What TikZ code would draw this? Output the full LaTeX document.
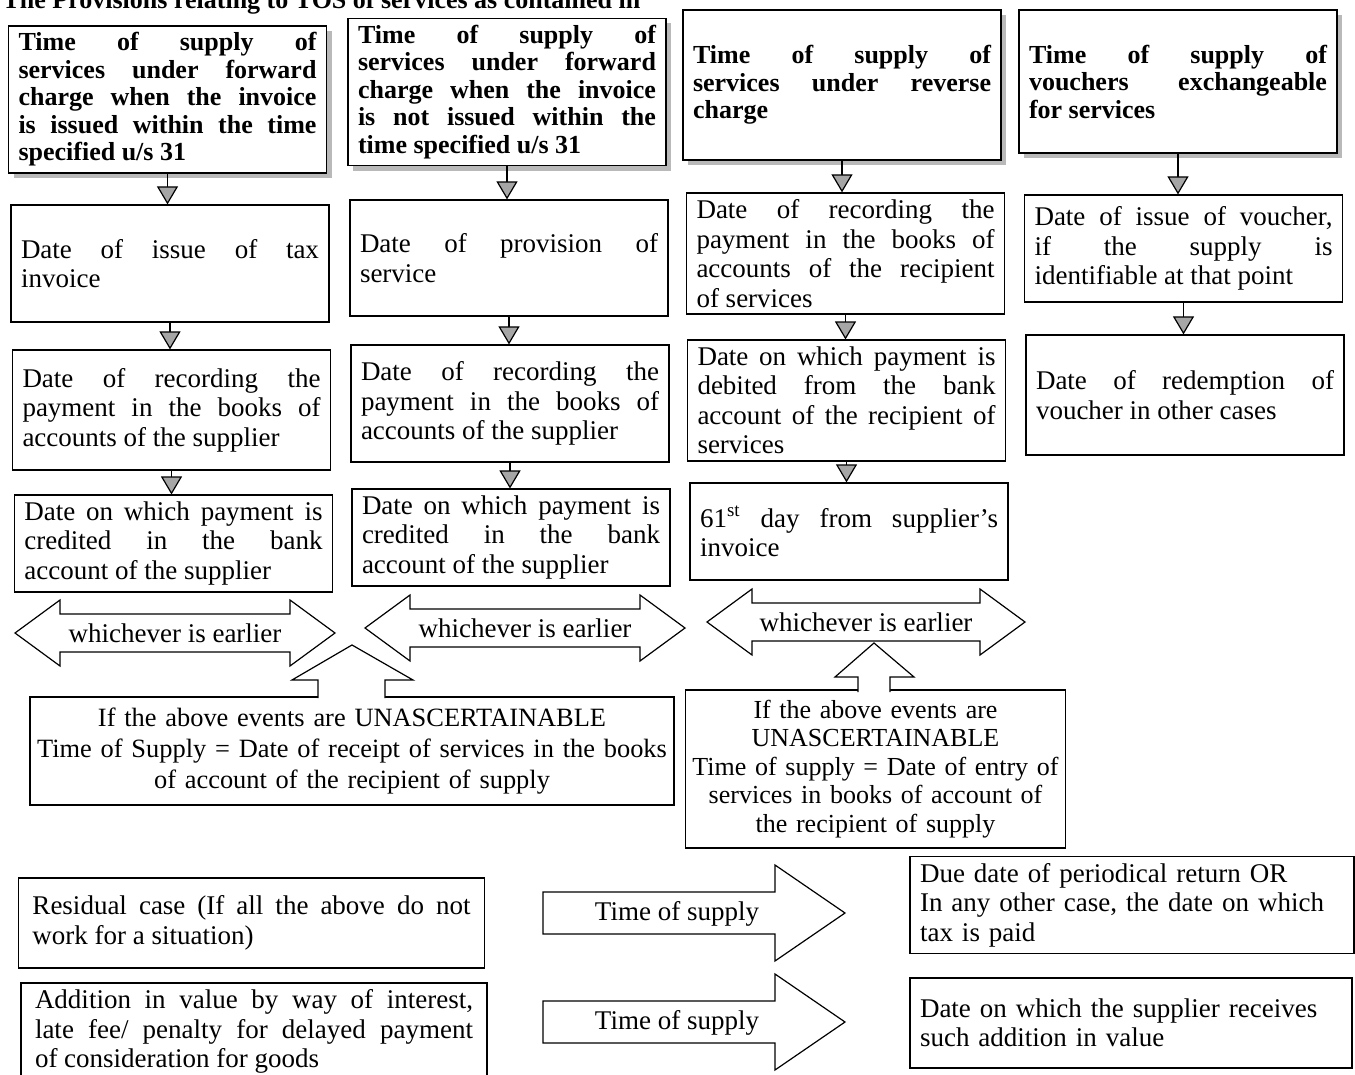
\documentclass[tikz,border=0pt]{standalone}
\usepackage{fontspec}
\setmainfont{Liberation Serif}
\usetikzlibrary{arrows.meta,shadows}
\hyphenpenalty=10000

\tikzset{
  every node/.style={font=\fontsize{13.5}{14.75}\selectfont},
  headbox/.style={draw, fill=white, align=justify, text width=149pt, inner xsep=5pt,
    font=\fontsize{13}{13.75}\selectfont\bfseries,
    drop shadow={shadow xshift=2.5pt, shadow yshift=-2.5pt, fill=gray!55, opacity=1}},
  datebox/.style={draw, align=justify, text width=149pt, inner xsep=5pt},
  textbox/.style={draw, fill=white, inner xsep=3pt},
  flowarrow/.style={-{Triangle[width=10.5pt,length=9pt,fill=gray!70]}},
  blockarrow/.style={draw, fill=white},
}

\begin{document}
\begin{tikzpicture}[x=0.5pt, y=-0.5pt, line width=0.6pt]
  \useasboundingbox (0,0) rectangle (1355,1075);

  \node[anchor=base west, inner sep=0, font=\fontsize{13}{13}\selectfont\bfseries] (title) at (2,9)
    {The Provisions relating to TOS of services as contained in};

  % heads of the four columns
  \node[headbox, minimum height=72.5pt] (h1) at (167.5,99.5)
    {Time of supply of\linebreak services under forward\linebreak charge when the invoice\linebreak
     is issued within the time\linebreak specified u/s 31};
  \node[headbox, minimum height=70pt] (h2) at (507,92)
    {Time of supply of\linebreak services under forward\linebreak charge when the invoice\linebreak
     is not issued within the\linebreak time specified u/s 31};
  \node[headbox, minimum height=75pt] (h3) at (842,85)
    {Time of supply of\linebreak services under reverse\linebreak charge};
  \node[headbox, minimum height=71.5pt] (h4) at (1178,81.5)
    {Time of supply of\linebreak vouchers exchangeable\linebreak for services};

  % second row
  \node[datebox, minimum height=58.5pt] (d1) at (170,263.5) {Date of issue of tax\linebreak invoice};
  \node[datebox, minimum height=58pt] (d2) at (509,258) {Date of provision of\linebreak service};
  \node[datebox, minimum height=58.5pt] (d3) at (845.5,253.5)
    {Date of recording the\linebreak payment in the books of\linebreak accounts of the recipient\linebreak of services};
  \node[datebox, minimum height=53.5pt] (d4) at (1183.5,248.5)
    {Date of issue of voucher,\linebreak if the supply is\linebreak identifiable at that point};

  % third row
  \node[datebox, minimum height=60pt] (e1) at (171.5,410)
    {Date of recording the\linebreak payment in the books of\linebreak accounts of the supplier};
  \node[datebox, minimum height=58.5pt] (e2) at (510,403.5)
    {Date of recording the\linebreak payment in the books of\linebreak accounts of the supplier};
  \node[datebox, minimum height=57.5pt] (e3) at (846.5,400.5)
    {Date on which payment is\linebreak debited from the bank\linebreak account of the recipient of\linebreak services};
  \node[datebox, minimum height=60pt] (e4) at (1185,395)
    {Date of redemption of\linebreak voucher in other cases};

  % fourth row
  \node[datebox, minimum height=46.5pt] (f1) at (173.5,543.5)
    {Date on which payment is\linebreak credited in the bank\linebreak account of the supplier};
  \node[datebox, minimum height=47.5pt] (f2) at (511,537.5)
    {Date on which payment is\linebreak credited in the bank\linebreak account of the supplier};
  \node[datebox, minimum height=48.5pt] (f3) at (849,531.5)
    {61\textsuperscript{st} day from supplier’s\linebreak invoice};

  \foreach \a/\b in {h1/d1,d1/e1,e1/f1,h2/d2,d2/e2,e2/f2,h3/d3,d3/e3,e3/f3,h4/d4,d4/e4}
    \draw[flowarrow] (\a.south) -- (\a.south |- \b.north);

  % whichever is earlier
  \foreach \l/\r/\y/\i in {15/335/633/1, 365/685/628/2, 707/1025/622/3} {
    \draw[blockarrow] (\l,\y) -- (\l+45,\y-33) -- (\l+45,\y-19) -- (\r-45,\y-19) -- (\r-45,\y-33)
      -- (\r,\y) -- (\r-45,\y+33) -- (\r-45,\y+19) -- (\l+45,\y+19) -- (\l+45,\y+33) -- cycle;
    \node (earlier\i) at ({(\l+\r)/2},\y) {whichever is earlier};
  }

  % unascertainable cases
  \node[textbox, align=center, text width=316pt, minimum height=54pt, font=\fontsize{13.2}{15.5}\selectfont] (unasc1) at (352,751)
    {If the above events are UNASCERTAINABLE\\
     Time of Supply = Date of receipt of services in the books\\
     of account of the recipient of supply};
  \node[textbox, align=center, text width=188pt, inner xsep=1pt, minimum height=79pt, font=\fontsize{13}{14.25}\selectfont] (unasc2) at (875.5,769)
    {If the above events are\\ UNASCERTAINABLE\\ Time of supply = Date of entry of\\
     services in books of account of\\ the recipient of supply};
  \filldraw[fill=white] (318,698) -- (318,680) -- (292,680) -- (352,645) -- (413,680) -- (385,680) -- (385,698);
  \filldraw[fill=white] (858,692) -- (858,677) -- (835,677) -- (874,643) -- (914,677) -- (890,677) -- (890,692);

  % residual case and addition in value
  \node[textbox, align=justify, text width=219pt, inner xsep=7pt, minimum height=45pt] (residual) at (251.5,923)
    {Residual case (If all the above do not\linebreak work for a situation)};
  \node[textbox, align=justify, text width=219pt, inner xsep=7pt, minimum height=48.5pt] (addition) at (254,1031.5)
    {Addition in value by way of interest,\linebreak late fee/ penalty for delayed payment\linebreak of consideration for goods};

  \foreach \y/\i in {913/1, 1022/2} {
    \draw[blockarrow] (543,\y-21) -- (775,\y-21) -- (775,\y-48) -- (845,\y) -- (775,\y+48)
      -- (775,\y+21) -- (543,\y+21) -- cycle;
    \node (supply\i) at (677,\y+1) {Time of supply};
  }

  \node[textbox, align=left, text width=212pt, inner xsep=5pt, minimum height=45pt] (duedate) at (1132,905)
    {Due date of periodical return OR\\ In any other case, the date on which\\ tax is paid};
  \node[textbox, align=left, text width=211pt, inner xsep=5pt, minimum height=45pt] (receipt) at (1131,1023)
    {Date on which the supplier receives\\ such addition in value};
\end{tikzpicture}
\end{document}
